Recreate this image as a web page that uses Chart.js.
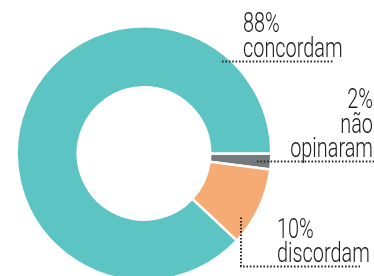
<!DOCTYPE html>
<html>
<head>
<meta charset="utf-8">
<script src="https://cdn.jsdelivr.net/npm/chart.js@4"></script>
<style>
  html, body { margin: 0; padding: 0; background: #fff; overflow: hidden; }
  #wrap { position: relative; width: 374px; height: 282px; }
</style>
</head>
<body>
<div id="wrap"><canvas id="chart"></canvas></div>
<script>
// dados da pesquisa
const categories = ['não opinaram', 'discordam', 'concordam'];
const values = [2, 10, 88];
const sliceColors = ['#767979', '#f5ab73', '#5cc5c3'];

const squeeze = 0.71;

function drawText(ctx, str, x, y, align) {
    ctx.save();
    ctx.translate(x, y);
    ctx.scale(squeeze, 1);
    ctx.textAlign = align;
    ctx.fillText(str, 0, 0);
    ctx.restore();
}

function dotted(ctx, pts) {
    ctx.beginPath();
    ctx.moveTo(pts[0][0], pts[0][1]);
    for (let i = 1; i < pts.length; i++) ctx.lineTo(pts[i][0], pts[i][1]);
    ctx.stroke();
}

// rótulos com linhas pontilhadas
const calloutPlugin = {
    id: 'callouts',
    afterDraw(chart) {
        const arc = chart.getDatasetMeta(0).data[0];
        const cx = arc.x, cy = arc.y;
        const W = chart.width;
        const ctx = chart.ctx;
        ctx.save();
        ctx.fillStyle = '#1e1b1c';
        ctx.strokeStyle = '#2a2a2a';
        ctx.lineWidth = 2;
        ctx.setLineDash([1.6, 1.8]);
        ctx.textBaseline = 'alphabetic';
        ctx.font = '300 28px Roboto, "Open Sans", sans-serif';

        // concordam
        drawText(ctx, values[2] + '%', cx + 99, cy - 122, 'left');
        drawText(ctx, categories[2], cx + 99, cy - 97, 'left');
        dotted(ctx, [[cx + 78, cy - 92], [cx + 190, cy - 92]]);

        // não opinaram
        const words = categories[0].split(' ');
        drawText(ctx, values[0] + '%', W - 1, cy - 46, 'right');
        drawText(ctx, words[0], W - 1, cy - 21, 'right');
        drawText(ctx, words[1], W - 1, cy + 3, 'right');
        dotted(ctx, [[cx + 113, cy + 8], [W, cy + 8]]);

        // discordam
        drawText(ctx, values[1] + '%', cx + 133, cy + 84, 'left');
        drawText(ctx, categories[1], cx + 133, cy + 108, 'left');
        dotted(ctx, [[cx + 97, cy + 64], [cx + 97, cy + 113], [cx + 216, cy + 113]]);

        ctx.restore();
    }
};

new Chart(document.getElementById('chart'), {
    type: 'doughnut',
    data: {
        labels: categories,
        datasets: [{
            data: values,
            backgroundColor: sliceColors,
            borderColor: '#fff',
            borderWidth: 2.5
        }]
    },
    options: {
        responsive: true,
        maintainAspectRatio: false,
        animation: false,
        rotation: 90,
        cutout: '52%',
        layout: { padding: { left: 15, right: 101, top: 25, bottom: 0 } },
        plugins: {
            legend: { display: false },
            tooltip: { enabled: false }
        }
    },
    plugins: [calloutPlugin]
});
</script>
</body>
</html>
